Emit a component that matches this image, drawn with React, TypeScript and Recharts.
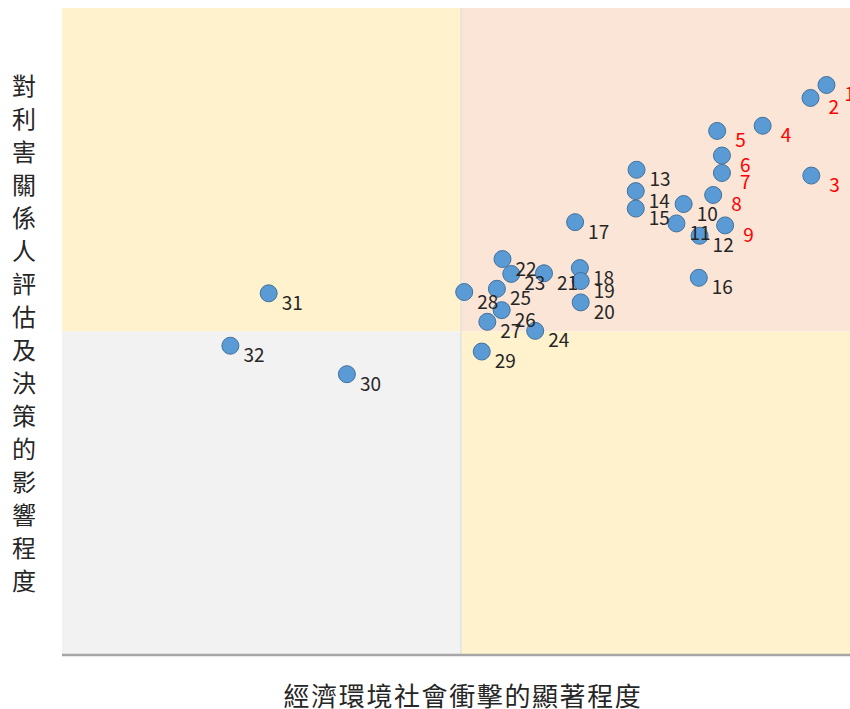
import { ScatterChart, Scatter, XAxis, YAxis, ReferenceArea, ReferenceLine } from "recharts"

// issue numbers, x = 經濟環境社會衝擊的顯著程度, y = 對利害關係人評估及決策的影響程度
const ids = [1, 2, 3, 4, 5, 6, 7, 8, 9, 10, 11, 12, 13, 14, 15, 16, 17, 18, 19, 20, 21, 22, 23, 24, 25, 26, 27, 28, 29, 30, 31, 32]
const impact = [9.58, 9.38, 9.39, 8.78, 8.21, 8.27, 8.27, 8.16, 8.31, 7.79, 7.7, 7.99, 7.2, 7.19, 7.19, 7.98, 6.43, 6.49, 6.5, 6.5, 6.04, 5.52, 5.63, 5.93, 5.45, 5.51, 5.33, 5.04, 5.26, 3.57, 2.59, 2.11]
const concern = [8.81, 8.61, 7.41, 8.18, 8.1, 7.72, 7.45, 7.11, 6.64, 6.97, 6.67, 6.48, 7.5, 7.17, 6.9, 5.83, 6.69, 5.98, 5.78, 5.45, 5.9, 6.12, 5.89, 5.01, 5.66, 5.33, 5.15, 5.61, 4.69, 4.34, 5.59, 4.78]
const topIssues = 9

const xTitle = "經濟環境社會衝擊的顯著程度"
const yTitle = "對利害關係人評估及決策的影響程度"

const points = ids.map((id, i) => ({ id, x: impact[i], y: concern[i] }))

const font = "'Noto Sans CJK TC', 'Noto Sans', sans-serif"

const Dot = (props: any) => (
    <circle cx={props.cx} cy={props.cy} r={8.5} fill="#5B9BD5" stroke="#41719C" strokeWidth={1} />
)

const Tag = (props: any) => {
    const red = props.payload.id <= topIssues
    return (
        <text
            x={props.cx + (red ? 18 : 13)}
            y={props.cy + 8}
            dominantBaseline="central"
            fontSize={19}
            fontFamily={font}
            fill={red ? "#FF0000" : "#262626"}
        >
            {props.payload.id}
        </text>
    )
}

const XTitle = (props: any) => {
    const vb = props.viewBox
    return (
        <text
            x={vb.x + vb.width / 2 + 2}
            y={694}
            textAnchor="middle"
            dominantBaseline="central"
            fontSize={26}
            letterSpacing={1.6}
            fontFamily={font}
            fill="#262626"
        >
            {xTitle}
        </text>
    )
}

const YTitle = (props: any) => {
    const vb = props.viewBox
    const step = 33
    const mid = vb.y + vb.height / 2
    const chars = yTitle.split("")
    return (
        <g>
            {chars.map((c, i) => (
                <text
                    key={i}
                    x={24}
                    y={mid + (i - (chars.length - 1) / 2) * step}
                    textAnchor="middle"
                    dominantBaseline="central"
                    fontSize={24}
                    fontFamily={font}
                    fill="#262626"
                >
                    {c}
                </text>
            ))}
        </g>
    )
}

export default function App() {
    return (
        <div style={{ position: "absolute", left: 0, top: 0, width: 850, height: 709, overflow: "hidden", background: "#fff" }}>
            <ScatterChart width={880} height={709} margin={{ top: 8, right: 20, bottom: 0, left: 0 }}>
                <XAxis
                    type="number"
                    dataKey="x"
                    domain={[0, 10]}
                    tick={false}
                    tickLine={false}
                    axisLine={false}
                    height={54}
                    label={<XTitle />}
                />
                <YAxis
                    type="number"
                    dataKey="y"
                    domain={[0, 10]}
                    tick={false}
                    tickLine={false}
                    axisLine={false}
                    width={62}
                    label={<YTitle />}
                />
                <ReferenceArea x1={0} x2={5} y1={5} y2={10} fill="#FFF2CC" fillOpacity={1} stroke="none" />
                <ReferenceArea x1={5} x2={10} y1={5} y2={10} fill="#FBE5D6" fillOpacity={1} stroke="none" />
                <ReferenceArea x1={0} x2={5} y1={0} y2={5} fill="#F2F2F2" fillOpacity={1} stroke="none" />
                <ReferenceArea x1={5} x2={10} y1={0} y2={5} fill="#FFF2CC" fillOpacity={1} stroke="none" />
                <ReferenceLine x={5} stroke="#E2E2E2" strokeWidth={1.5} />
                <ReferenceLine y={0} stroke="#A6A6A6" strokeWidth={2.5} />
                <Scatter data={points} shape={<Dot />} isAnimationActive={false} />
                <Scatter data={points} shape={<Tag />} isAnimationActive={false} />
            </ScatterChart>
        </div>
    )
}
